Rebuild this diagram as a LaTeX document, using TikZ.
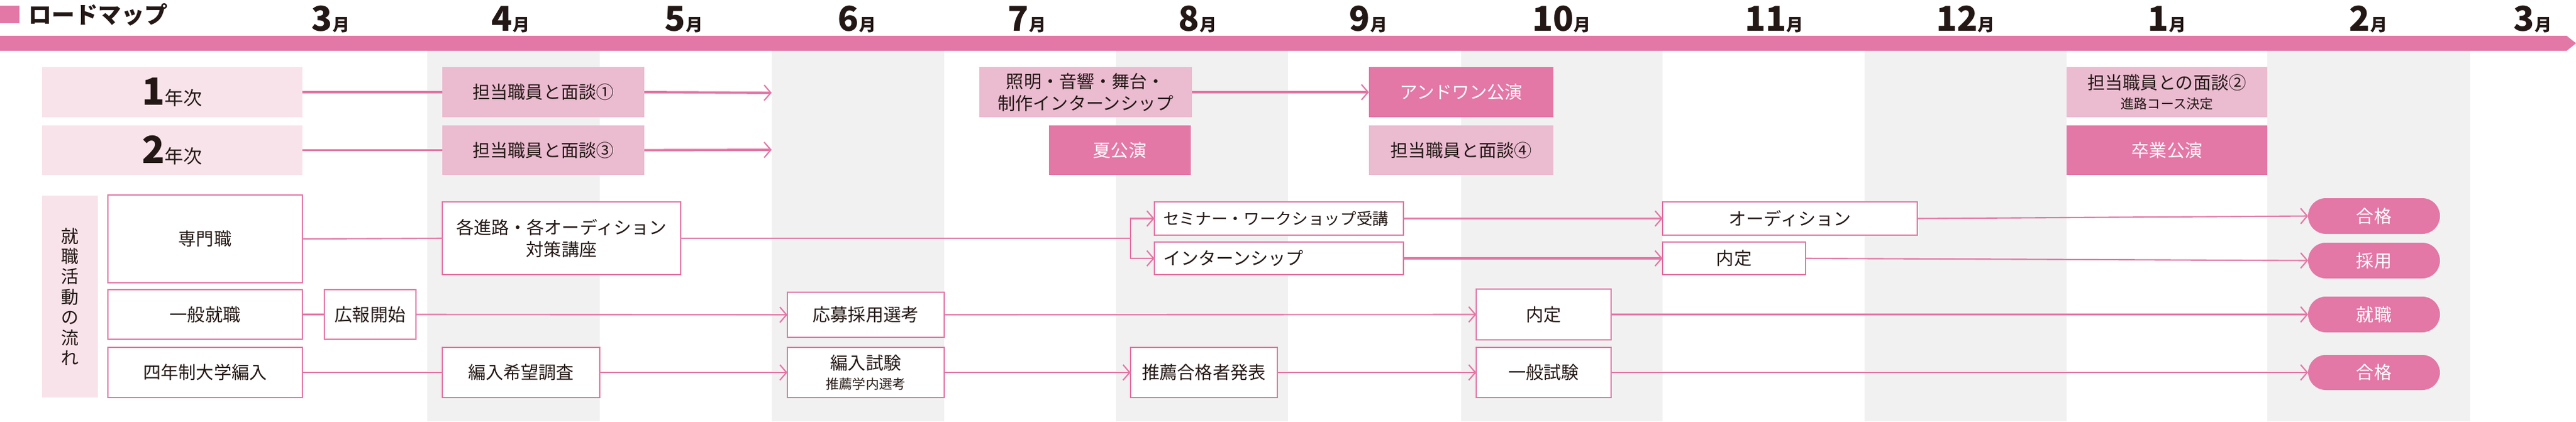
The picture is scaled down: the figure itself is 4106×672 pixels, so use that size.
\documentclass[tikz,border=0pt]{standalone}
\usepackage{fontspec}
\setmainfont{Noto Sans CJK JP}
\usetikzlibrary{arrows.meta}
\definecolor{pk}{HTML}{E377A6}
\definecolor{lpk}{HTML}{EBBBD0}
\definecolor{vlpk}{HTML}{F9E3EA}
\definecolor{gr}{HTML}{F1F1F1}
\definecolor{tx}{HTML}{231815}
\tikzset{
 base/.style={inner sep=0pt,outer sep=0pt,align=center,text=tx,font=\fontsize{8pt}{10pt}\selectfont},
 wbox/.style={base,draw=pk,line width=0.7pt,fill=white},
 lbox/.style={base,fill=lpk},
 dbox/.style={base,fill=pk,text=white},
 vbox/.style={base,fill=vlpk},
 pill/.style={base,fill=pk,text=white,rounded corners=8pt},
 thick arr/.style={pk,line width=1.1pt,-{Straight Barb[length=3pt,width=7pt,line width=0.6pt]}},
 thin arr/.style={pk,line width=0.6pt,-{Straight Barb[length=3pt,width=7pt,line width=0.6pt]}},
 thick ln/.style={pk,line width=1.1pt},
 thin ln/.style={pk,line width=0.6pt},
 mon/.style={inner sep=0pt,anchor=base,text=tx}
}
\newcommand{\bx}[7]{\node[#6,minimum width={(#3-#2)*0.01cm},minimum height={(#5-#4)*0.01cm}] (#1) at ({(#2+#3)/2},{-(#4+#5)/2}) {#7};}
\newcommand{\mo}[3]{\node[mon] (#1) at (#2,-49) {\fontsize{15.5pt}{16pt}\selectfont\bfseries #3\fontsize{7.7pt}{8pt}\selectfont 月};}
\begin{document}
\begin{tikzpicture}[x=0.01cm,y=0.01cm]
\useasboundingbox (0,0) rectangle (4106,-672);
% stripes
\foreach \a/\b in {681/956,1230/1505,1779/2053,2329/2650,2972/3294,3614/3937}
  \fill[gr] (\a,-81) rectangle (\b,-672);
% band
\fill[pk] (0,-57) -- (4091,-57) -- (4106,-69) -- (4091,-81) -- (0,-81) -- cycle;
% title
\fill[pk] (0,-9) rectangle (31,-37);
\node[inner sep=0pt,anchor=west,text=tx] (title) at (45,-23) {\fontsize{10.5pt}{11pt}\selectfont\bfseries ロードマップ};
% months
\mo{m3}{527}{3}\mo{m4}{814}{4}\mo{m5}{1090}{5}\mo{m6}{1366}{6}
\mo{m7}{1637}{7}\mo{m8}{1909}{8}\mo{m9}{2181}{9}\mo{m10}{2489}{10}
\mo{m11}{2828}{11}\mo{m12}{3133}{12}\mo{m1}{3454}{1}\mo{m2}{3775}{2}\mo{m3b}{4037}{3}
% year rows
\bx{y1}{67}{482}{107}{187}{vbox}{{\fontsize{17pt}{17pt}\selectfont\bfseries 1}{\fontsize{8.5pt}{9pt}\selectfont 年次}}
\bx{y2}{67}{482}{200}{279}{vbox}{{\fontsize{17pt}{17pt}\selectfont\bfseries 2}{\fontsize{8.5pt}{9pt}\selectfont 年次}}
\bx{t1}{705}{1027}{107}{187}{lbox}{担当職員と面談①}
\bx{t3}{705}{1027}{200}{279}{lbox}{担当職員と面談③}
\bx{shomei}{1561}{1900}{107}{187}{lbox}{照明・音響・舞台・\\制作インターンシップ}
\bx{natsu}{1672}{1898}{200}{279}{dbox}{夏公演}
\bx{andwan}{2182}{2476}{107}{187}{dbox}{アンドワン公演}
\bx{t4}{2182}{2476}{200}{279}{lbox}{担当職員と面談④}
\bx{t2}{3294}{3614}{107}{187}{lbox}{担当職員との面談②\\[-1pt]{\fontsize{6pt}{7pt}\selectfont 進路コース決定}}
\bx{sotsu}{3294}{3614}{200}{279}{dbox}{卒業公演}
\coordinate (e1) at (1230,-148);
\coordinate (e2) at (1230,-239);
\draw[thick ln] (y1.east) -- (t1.west);
\draw[thick arr] (t1.east) -- (e1);
\draw[thick ln] (y2.east) -- (t3.west);
\draw[thick arr] (t3.east) -- (e2);
\draw[thick arr] (shomei.east) -- (andwan.west);
% job hunting
\bx{side}{67}{156}{312}{634}{vbox,font=\fontsize{8pt}{9.2pt}\selectfont}{就\\職\\活\\動\\の\\流\\れ}
\bx{senmon}{172}{482}{311}{451}{wbox}{専門職}
\bx{kakushin}{705}{1085}{322}{438}{wbox}{各進路・各オーディション\\対策講座}
\bx{seminar}{1840}{2237}{322}{375}{wbox}{}
\node[base,anchor=west,font=\fontsize{7.3pt}{9pt}\selectfont] (seminartext) at ([xshift=4pt]seminar.west) {セミナー・ワークショップ受講};
\bx{intern}{1840}{2237}{386}{438}{wbox}{}
\node[base,anchor=west] (interntext) at ([xshift=4pt]intern.west) {インターンシップ};
\bx{aud}{2650}{3056}{322}{375}{wbox}{オーディション}
\bx{naitei1}{2650}{2878}{386}{438}{wbox}{内定}
\bx{gokaku1}{3679}{3889}{316}{373}{pill}{合格}
\bx{saiyou}{3679}{3889}{387}{444}{pill}{採用}
\coordinate (br) at (1802,-380);
\draw[thin ln] (senmon.east) -- (kakushin.west);
\draw[thin ln] (kakushin.east) -- (br);
\draw[thin arr] (br) |- (seminar.west);
\draw[thin arr] (br) |- (intern.west);
\draw[thin arr] (seminar.east) -- (aud.west);
\draw[thin arr] (aud.east) -- (gokaku1.west);
\draw[thick arr] (intern.east) -- (naitei1.west);
\draw[thin arr] (naitei1.east) -- (saiyou.west);
% general
\bx{ippan}{172}{482}{462}{541}{wbox}{一般就職}
\bx{kouhou}{517}{663}{462}{541}{wbox}{広報開始}
\bx{oubo}{1255}{1505}{466}{538}{wbox}{応募採用選考}
\bx{naitei2}{2353}{2568}{461}{542}{wbox}{内定}
\bx{shushoku}{3679}{3889}{473}{530}{pill}{就職}
\draw[thin ln] (ippan.east) -- (kouhou.west);
\draw[thin arr] (kouhou.east) -- (oubo.west);
\draw[thin arr] (oubo.east) -- (naitei2.west);
\draw[thin arr] (naitei2.east) -- (shushoku.west);
% transfer
\bx{hennyu}{172}{482}{554}{634}{wbox}{四年制大学編入}
\bx{kibou}{705}{956}{554}{634}{wbox}{編入希望調査}
\bx{shiken}{1255}{1505}{554}{634}{wbox}{編入試験\\[-1pt]{\fontsize{6pt}{7pt}\selectfont 推薦学内選考}}
\bx{suisen}{1802}{2036}{554}{634}{wbox}{推薦合格者発表}
\bx{ippanshiken}{2353}{2568}{554}{634}{wbox}{一般試験}
\bx{gokaku2}{3679}{3889}{566}{622}{pill}{合格}
\draw[thin ln] (hennyu.east) -- (kibou.west);
\draw[thin arr] (kibou.east) -- (shiken.west);
\draw[thin arr] (shiken.east) -- (suisen.west);
\draw[thin arr] (suisen.east) -- (ippanshiken.west);
\draw[thin arr] (ippanshiken.east) -- (gokaku2.west);
\end{tikzpicture}
\end{document}
